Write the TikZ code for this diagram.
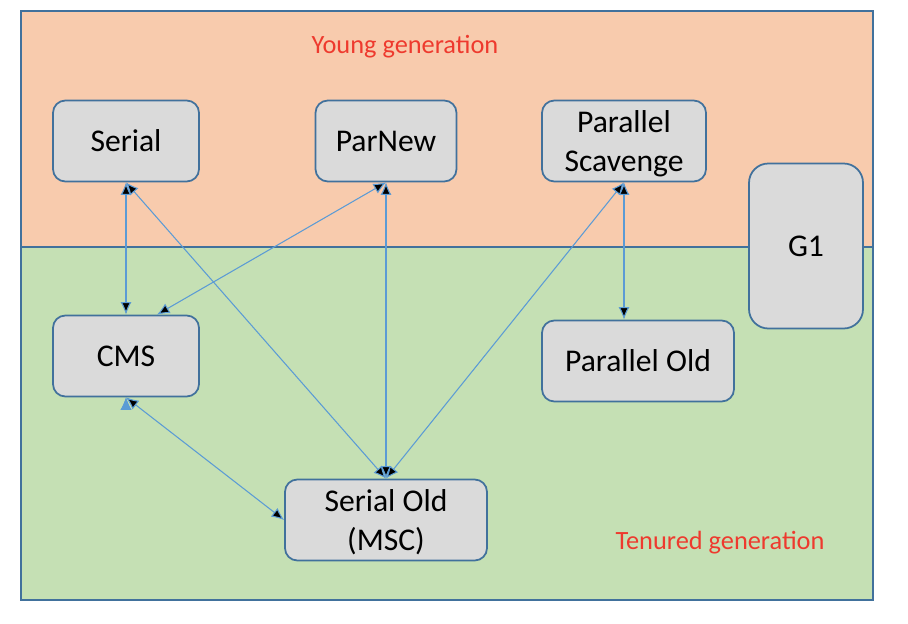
\documentclass[tikz,border=0pt]{standalone}
\usepackage{fontspec}
\setmainfont{Carlito}
\usetikzlibrary{positioning, arrows.meta}

\definecolor{younggen}{HTML}{F8CBAD}
\definecolor{tenuredgen}{HTML}{C5E0B4}
\definecolor{frameline}{HTML}{41719C}
\definecolor{boxfill}{HTML}{DADADA}
\definecolor{boxline}{HTML}{41719C}
\definecolor{arrowblue}{HTML}{5B9BD5}
\definecolor{labelred}{HTML}{EE3A2E}

\begin{document}
\begin{tikzpicture}[node distance=2cm, on grid,
    gc/.style={draw=boxline, line width=1pt, fill=boxfill, rounded corners=7pt,
        minimum height=1.62cm, inner sep=2pt, align=center,
        font=\fontsize{18}{22.4}\selectfont},
    link/.style={draw=arrowblue, line width=0.6pt,
        {Latex[length=2.5mm,width=2.2mm]}-{Latex[length=2.5mm,width=2.2mm]}},
    genlabel/.style={text=labelred, font=\fontsize{15}{18}\selectfont}]

    \useasboundingbox (0,0) rectangle (18.16,12.46);

    % the two generations
    \fill[younggen] (0.42,7.52) rectangle (17.46,12.24);
    \fill[tenuredgen] (0.42,0.46) rectangle (17.46,7.52);
    \draw[frameline, line width=1.1pt] (0.42,0.46) rectangle (17.46,12.24);
    \draw[frameline, line width=1.1pt] (0.42,7.52) -- (17.46,7.52);

    \node[genlabel] (young) at (8.10,11.52) {Young generation};
    \node[genlabel] (tenured) at (14.40,1.60) {Tenured generation};

    % collectors
    \node[gc, minimum width=2.92cm] (serial) at (2.52,9.64) {Serial};
    \node[gc, minimum width=2.82cm] (parnew) [right=5.2cm of serial] {ParNew};
    \node[gc, minimum width=3.28cm, text depth=0pt] (scavenge) [right=4.76cm of parnew] {Parallel\\Scavenge};
    \node[gc, minimum width=2.92cm] (cms) [below=4.3cm of serial] {CMS};
    \node[gc, minimum width=3.84cm] (parold) [below right=4.4cm and 0.28cm of scavenge] {Parallel Old};
    \node[gc, minimum width=4.04cm, text depth=0pt] (serialold) [below=7.58cm of parnew] {Serial Old\\(MSC)};
    \node[gc, minimum width=2.28cm, minimum height=3.3cm, rounded corners=11pt] (g1) at (16.12,7.54) {G1};

    \path[link]
    (serial.south) edge (cms.north)
                   edge (serialold.north)
    (parnew.south) edge ([xshift=0.62cm]cms.north)
                   edge (serialold.north)
    (scavenge.south) edge (serialold.north)
                     edge ([xshift=-0.28cm]parold.north)
    (cms.south) edge (serialold.west);

\end{tikzpicture}
\end{document}
